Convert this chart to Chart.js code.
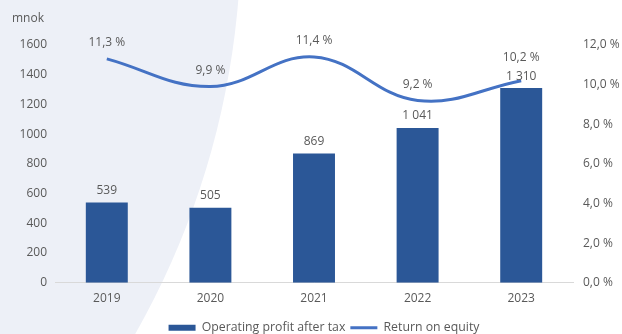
<!DOCTYPE html>
<html>
<head>
<meta charset="utf-8">
<script src="https://cdn.jsdelivr.net/npm/chart.js@4/dist/chart.umd.min.js"></script>
<style>
  html, body { margin: 0; padding: 0; background: #fff; }
  #wrap { width: 622px; height: 334px; }
</style>
</head>
<body>
<div id="wrap"><canvas id="chart" width="622" height="334"></canvas></div>
<script>
// ─── Data ───
const years  = ['2019', '2020', '2021', '2022', '2023'];
const profit = [539, 505, 869, 1041, 1310];      // mnok
const roe    = [11.3, 9.9, 11.4, 9.2, 10.2];     // %

const profitTicks = { min: 0, max: 1600, step: 200 };
const roeTicks    = { min: 0, max: 12, step: 2 };
const unitLabel   = 'mnok';

// ─── Colours ───
const BAR_BLUE  = '#2b5797';
const LINE_BLUE = '#4472c4';
const TEXT_GREY = '#595959';
const SHAPE_BG  = '#edf0f7';
const FONT      = "'Open Sans', sans-serif";

// ─── Helpers ───
function fmtThousands(n) {
  return String(n).replace(/\B(?=(\d{3})+(?!\d))/g, ' ');
}
function fmtPct(v, digits = 1) {
  return v.toFixed(digits).replace('.', ',') + ' %';
}

// light curved panel behind the left part of the chart + unit label
const backdrop = {
  id: 'backdrop',
  beforeDraw(chart) {
    const ctx = chart.ctx;
    ctx.save();
    ctx.fillStyle = '#ffffff';
    ctx.fillRect(0, 0, chart.width, chart.height);
    ctx.fillStyle = SHAPE_BG;
    ctx.beginPath();
    ctx.arc(-568, -66, 809, 0, Math.PI * 2);
    ctx.fill();

    ctx.font = '12px ' + FONT;
    ctx.fillStyle = TEXT_GREY;
    ctx.textAlign = 'left';
    ctx.textBaseline = 'middle';
    ctx.fillText(unitLabel, 12, 19);
    ctx.restore();
  }
};

// value labels above bars and line points
const valueLabels = {
  id: 'valueLabels',
  afterDatasetsDraw(chart) {
    const ctx = chart.ctx;
    const bars = chart.getDatasetMeta(0).data;
    const pts  = chart.getDatasetMeta(1).data;
    const barLabelY = [];
    ctx.save();
    ctx.font = '12px ' + FONT;
    ctx.fillStyle = TEXT_GREY;
    ctx.textAlign = 'center';
    ctx.textBaseline = 'middle';
    bars.forEach((bar, i) => {
      const y = bar.y - 12;
      barLabelY[i] = y;
      ctx.fillText(fmtThousands(profit[i]), bar.x, y);
    });
    pts.forEach((pt, i) => {
      // keep the percentage clear of the bar label below it
      const y = Math.min(pt.y - 16, barLabelY[i] - 19);
      ctx.fillText(fmtPct(roe[i]), pt.x, y);
    });
    ctx.restore();
  }
};

Chart.defaults.font.family = FONT;
Chart.defaults.font.size = 12;
Chart.defaults.color = TEXT_GREY;

new Chart(document.getElementById('chart'), {
  type: 'bar',
  data: {
    labels: years,
    datasets: [
      {
        type: 'bar',
        label: 'Operating profit after tax',
        data: profit,
        yAxisID: 'y',
        backgroundColor: BAR_BLUE,
        borderWidth: 0,
        barPercentage: 0.405,
        categoryPercentage: 1,
        pointStyle: 'rect',
      },
      {
        type: 'line',
        label: 'Return on equity',
        data: roe,
        yAxisID: 'y1',
        borderColor: LINE_BLUE,
        borderWidth: 3,
        tension: 0.4,
        pointRadius: 0,
        pointStyle: 'line',
        pointBorderColor: LINE_BLUE,
        pointBorderWidth: 3,
        fill: false,
      }
    ]
  },
  options: {
    responsive: false,
    animation: false,
    // right padding is negative so the legend sits a little right of centre
    layout: { padding: { left: 12, right: -14, top: 45, bottom: -10 } },
    plugins: {
      legend: {
        position: 'bottom',
        labels: {
          usePointStyle: true,
          pointStyleWidth: 27,
          boxHeight: 6,
          padding: 5,
          color: TEXT_GREY,
          font: { size: 12.3 }
        }
      },
      tooltip: { enabled: false }
    },
    scales: {
      x: {
        grid: { display: false, drawTicks: false },
        border: { color: '#d9d9d9', width: 1 },
        ticks: { padding: 9 },
        afterFit: (s) => { s.height = 34; }
      },
      y: {
        position: 'left',
        min: profitTicks.min,
        max: profitTicks.max,
        grid: { display: false, drawTicks: false },
        border: { display: false },
        ticks: {
          stepSize: profitTicks.step,
          padding: 8,
          callback: (v) => String(v)
        },
        afterFit: (s) => { s.width = 43; }
      },
      y1: {
        position: 'right',
        min: roeTicks.min,
        max: roeTicks.max,
        grid: { display: false, drawTicks: false },
        border: { display: false },
        ticks: {
          stepSize: roeTicks.step,
          padding: 10,
          callback: (v) => fmtPct(v)
        },
        afterFit: (s) => { s.width = 63; }
      }
    }
  },
  plugins: [backdrop, valueLabels]
});
</script>
</body>
</html>
